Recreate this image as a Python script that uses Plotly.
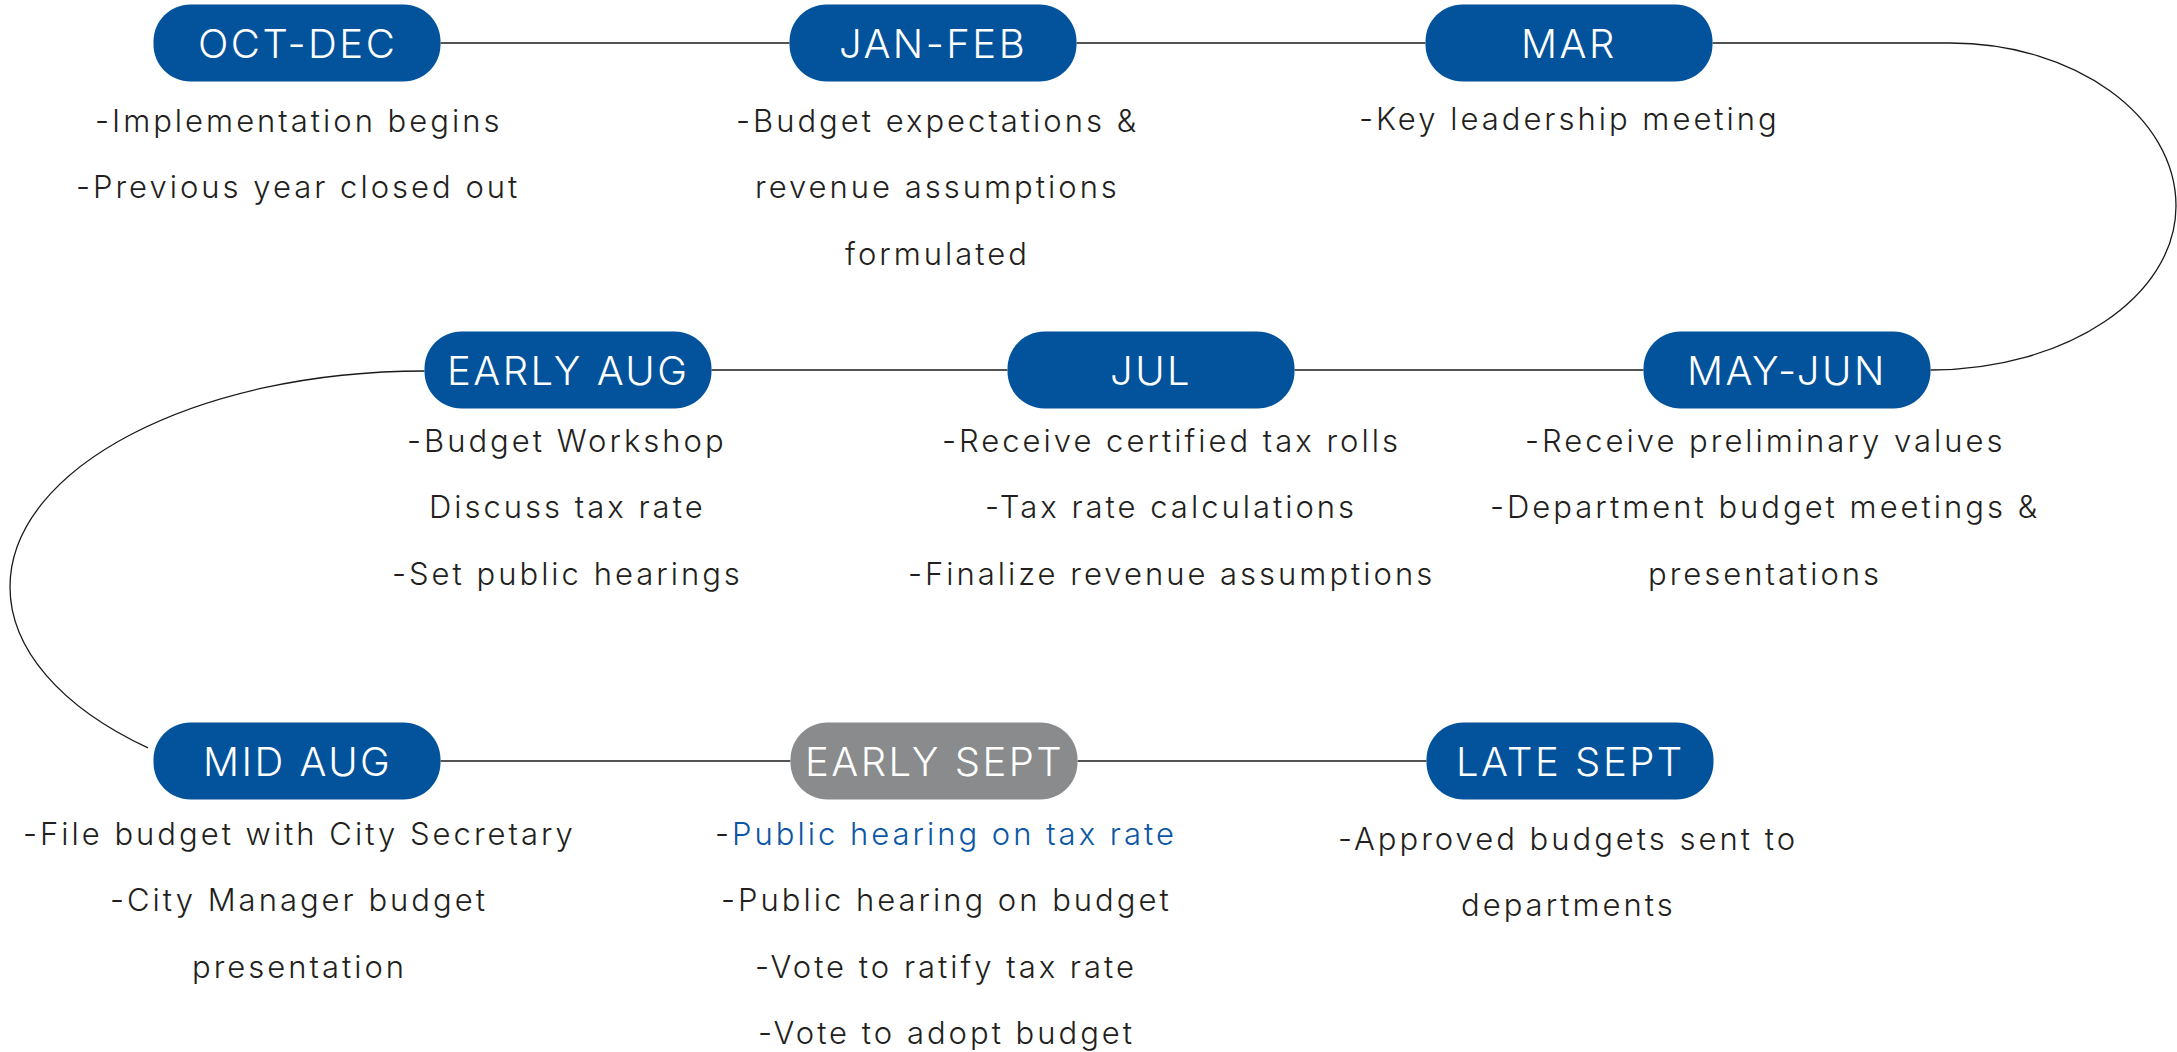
import math
import plotly.graph_objects as go

# ---------------- data ----------------
phases = ["OCT-DEC", "JAN-FEB", "MAR", "MAY-JUN", "JUL",
          "EARLY AUG", "MID AUG", "EARLY SEPT", "LATE SEPT"]

descriptions = [
    ["-Implementation begins", "-Previous year closed out"],
    ["-Budget expectations &", "revenue assumptions", "formulated"],
    ["-Key leadership meeting"],
    ["-Receive preliminary values", "-Department budget meetings &", "presentations"],
    ["-Receive certified tax rolls", "-Tax rate calculations", "-Finalize revenue assumptions"],
    ["-Budget Workshop", "Discuss tax rate", "-Set public hearings"],
    ["-File budget with City Secretary", "-City Manager budget", "presentation"],
    ["-Public hearing on tax rate", "-Public hearing on budget",
     "-Vote to ratify tax rate", "-Vote to adopt budget"],
    ["-Approved budgets sent to", "departments"],
]

current_phase = "EARLY SEPT"
highlight_line = (7, 0)   # (phase index, line index) shown in blue

# sequence of connections (phase index pairs)
straight_links = [(0, 1), (1, 2), (4, 3), (5, 4), (6, 7), (7, 8)]

# ---------------- layout / style ----------------
W, H = 2177, 1052
PILL_W, PILL_H, PILL_R = 287, 77, 37
BLUE = "#02539C"
GRAY = "#898B8D"
TEXT_BLUE = "#0B57A5"
TEXT_DARK = "#231F20"
LINE_COLOR = "#1a1a1a"
FONT = "Inter"
LINE_GAP = 66.6
DESC_SPACING = "3px"
PILL_SPACING = "2.5px"

pill_pos = [(297, 43), (933, 43), (1569, 43),
            (1787, 370), (1151, 370), (568, 370),
            (297, 761), (934, 761), (1570, 761)]
text_pos = [(298, 121), (937, 121), (1569, 119),
            (1765, 441), (1171, 441), (567, 441),
            (299, 834), (946, 834), (1568, 839)]

fig = go.Figure()


def pill_path(cx, cy, w=PILL_W, h=PILL_H, r=PILL_R):
    k = 0.5523 * r
    x0, x1 = cx - w / 2, cx + w / 2
    y0, y1 = cy - h / 2, cy + h / 2
    return (f"M {x0 + r},{y0} L {x1 - r},{y0} "
            f"C {x1 - r + k},{y0} {x1},{y0 + r - k} {x1},{y0 + r} "
            f"L {x1},{y1 - r} "
            f"C {x1},{y1 - r + k} {x1 - r + k},{y1} {x1 - r},{y1} "
            f"L {x0 + r},{y1} "
            f"C {x0 + r - k},{y1} {x0},{y1 - r + k} {x0},{y1 - r} "
            f"L {x0},{y0 + r} "
            f"C {x0},{y0 + r - k} {x0 + r - k},{y0} {x0 + r},{y0} Z")


shapes = []
# straight connectors
for a, b in straight_links:
    (xa, ya), (xb, yb) = pill_pos[a], pill_pos[b]
    shapes.append(dict(type="line", xref="x", yref="y",
                       x0=xa + PILL_W / 2, y0=ya, x1=xb - PILL_W / 2, y1=yb,
                       line=dict(color=LINE_COLOR, width=1.6), layer="below"))

# right loop: MAR -> MAY-JUN
k = 0.5523
mx, my = pill_pos[2]
jx, jy = pill_pos[3]
top_x, bot_x, right_x = 1950, jx + PILL_W / 2, 2176
mid_y = 206
p = (f"M {mx + PILL_W / 2},{my} L {top_x},{my} "
     f"C {top_x + k * (right_x - top_x)},{my} {right_x},{mid_y - k * (mid_y - my)} {right_x},{mid_y} "
     f"C {right_x},{mid_y + k * (jy - mid_y)} {bot_x + k * (right_x - bot_x)},{jy} {bot_x},{jy}")
shapes.append(dict(type="path", xref="x", yref="y", path=p,
                   line=dict(color=LINE_COLOR, width=1.3), layer="below"))

# left loop: EARLY AUG -> MID AUG (elliptical arc)
ax, ay = pill_pos[5]
cx, cy, rx, ry = ax - PILL_W / 2, 587, ax - PILL_W / 2 - 10, 216
phi = math.asin(0.745)
h = 4 / 3 * math.tan(phi / 4)
ex, ey = -math.cos(phi), math.sin(phi)
p1 = (-1, h)
p2 = (ex - h * math.sin(phi), ey - h * math.cos(phi))


def tr(u, v):
    return f"{cx + rx * u},{cy + ry * v}"


p = (f"M {cx},{cy - ry} C {tr(-k, -1)} {tr(-1, -k)} {tr(-1, 0)} "
     f"C {tr(*p1)} {tr(*p2)} {tr(ex, ey)}")
shapes.append(dict(type="path", xref="x", yref="y", path=p,
                   line=dict(color=LINE_COLOR, width=1.3), layer="below"))

# pills
for name, (px, py) in zip(phases, pill_pos):
    shapes.append(dict(type="path", xref="x", yref="y", path=pill_path(px, py),
                       fillcolor=GRAY if name == current_phase else BLUE,
                       line=dict(width=0), layer="above"))

annotations = []
for name, (px, py) in zip(phases, pill_pos):
    annotations.append(dict(x=px, y=py, xref="x", yref="y",
                            text=f"<span style='letter-spacing:{PILL_SPACING}'>{name}</span>",
                            showarrow=False, xanchor="center", yanchor="middle",
                            font=dict(family=FONT, size=40, color="white", weight=300)))

for i, lines in enumerate(descriptions):
    tx, ty = text_pos[i]
    for j, line in enumerate(lines):
        if (i, j) == highlight_line:
            txt = (f"<span style='letter-spacing:{DESC_SPACING}'>-</span>"
                   f"<span style='letter-spacing:{DESC_SPACING};color:{TEXT_BLUE}'>{line[1:]}</span>")
        else:
            txt = f"<span style='letter-spacing:{DESC_SPACING}'>{line}</span>"
        annotations.append(dict(x=tx, y=ty + j * LINE_GAP - 1, xref="x", yref="y", text=txt,
                                showarrow=False, xanchor="center", yanchor="middle",
                                font=dict(family=FONT, size=31, color=TEXT_DARK, weight=300)))

fig.update_layout(
    width=W, height=H,
    margin=dict(l=0, r=0, t=0, b=0),
    paper_bgcolor="white", plot_bgcolor="white",
    xaxis=dict(range=[0, W], visible=False, fixedrange=True),
    yaxis=dict(range=[H, 0], visible=False, fixedrange=True),
    shapes=shapes, annotations=annotations, showlegend=False,
)

fig.write_html("out.html", config={"displayModeBar": False},
               post_script="document.body.style.margin='0';document.body.style.overflow='hidden';")
